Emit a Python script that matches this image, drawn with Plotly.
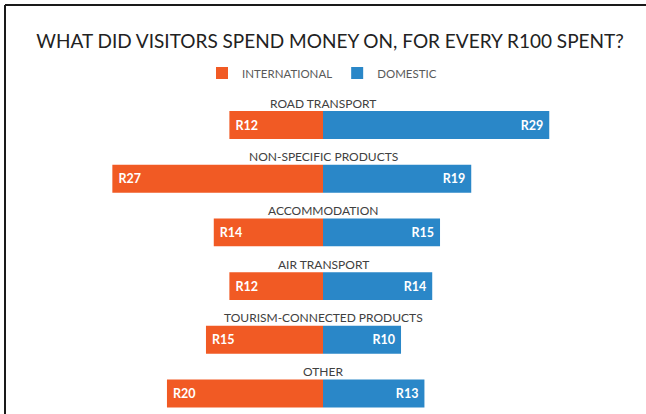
import plotly.graph_objects as go

# Spending per R100, by category
categories = [
    "ROAD TRANSPORT",
    "NON-SPECIFIC PRODUCTS",
    "ACCOMMODATION",
    "AIR TRANSPORT",
    "TOURISM-CONNECTED PRODUCTS",
    "OTHER",
]
international = [12, 27, 14, 12, 15, 20]
domestic = [29, 19, 15, 14, 10, 13]

ORANGE = "#F15A24"
BLUE = "#2A87C8"
FONT = "Lato, Liberation Sans, sans-serif"
NBSP = "\u00a0"

W, H = 646, 414

fig = go.Figure()

fig.add_trace(go.Bar(
    name="INTERNATIONAL",
    y=categories,
    x=[-v for v in international],
    orientation="h",
    marker=dict(color=ORANGE, line=dict(width=0)),
    width=0.52,
    text=[f"{NBSP}R{v}" for v in international],
    textposition="inside",
    insidetextanchor="end",
    textfont=dict(family=FONT, size=12.5, color="white", weight="bold"),
    hoverinfo="skip",
))

fig.add_trace(go.Bar(
    name="DOMESTIC",
    y=categories,
    x=domestic,
    orientation="h",
    marker=dict(color=BLUE, line=dict(width=0)),
    width=0.52,
    text=[f"R{v}{NBSP}" for v in domestic],
    textposition="inside",
    insidetextanchor="end",
    textfont=dict(family=FONT, size=12.5, color="white", weight="bold"),
    hoverinfo="skip",
))

# Category names centred above each pair of bars
for c in categories:
    fig.add_annotation(
        x=0, y=c, xref="x", yref="y",
        text=c, showarrow=False,
        yshift=22, xanchor="center", yanchor="middle",
        font=dict(family=FONT, size=12, color="#404040"),
    )

# Frame lines on the left and top edges
fig.add_shape(type="line", xref="paper", yref="paper",
              x0=5 / W, x1=5 / W, y0=0, y1=1 - 5 / H,
              line=dict(color="#1a1a1a", width=2))
fig.add_shape(type="line", xref="paper", yref="paper",
              x0=5 / W, x1=1, y0=1 - 5 / H, y1=1 - 5 / H,
              line=dict(color="#1a1a1a", width=2))

fig.update_layout(
    width=W, height=H,
    margin=dict(l=0, r=0, t=0, b=0),
    paper_bgcolor="white",
    plot_bgcolor="white",
    barmode="relative",
    title=dict(
        text="WHAT DID VISITORS SPEND MONEY ON, FOR EVERY R100 SPENT?",
        x=330 / W, xanchor="center",
        y=1 - 41 / H, yanchor="middle", yref="container",
        font=dict(family=FONT, size=19, color="#222222"),
    ),
    legend=dict(
        orientation="h",
        x=322 / W, xanchor="center",
        y=1 - 73 / H, yanchor="middle",
        font=dict(family=FONT, size=11.5, color="#595959"),
        bgcolor="rgba(0,0,0,0)",
        itemwidth=30,
        itemclick=False, itemdoubleclick=False,
    ),
    xaxis=dict(range=[-41.4, 41.4], visible=False, fixedrange=True),
    yaxis=dict(range=[5.382, -2.328], visible=False, fixedrange=True),
    showlegend=True,
)

fig.write_html("out.html")
